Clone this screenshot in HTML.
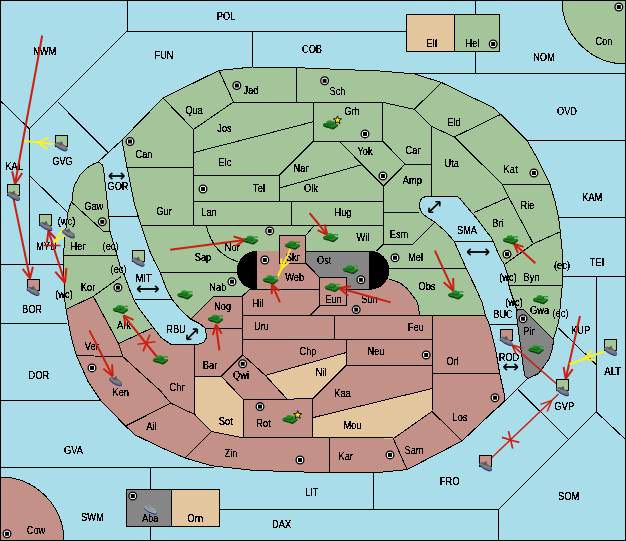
<!DOCTYPE html>
<html><head><meta charset="utf-8"><title>Map</title>
<style>html,body{margin:0;padding:0;background:#A9DDEA}svg{display:block}text{font-family:"Liberation Sans",Arial,sans-serif;font-size:10px;fill:#000;text-anchor:middle}</style></head>
<body>
<svg width="626" height="541" viewBox="0 0 626 541">
<rect x="0" y="0" width="626" height="541" fill="#A9DDEA"/>
<g shape-rendering="crispEdges">
<g stroke="#000" stroke-width="1" fill="none">
<polyline points="127,0 127,31"/>
<polyline points="127,31 406,31"/>
<polyline points="252.5,31 252.5,67"/>
<polyline points="127,31 29.3,128.8"/>
<polyline points="29.5,128.8 29.5,264"/>
<polyline points="0,264 64,264"/>
<polyline points="0,100.4 29.3,128.8"/>
<polyline points="57.5,101.7 108,152.6"/>
<polyline points="122,140 98,162"/>
<polyline points="30,176 68,213"/>
<polyline points="108.8,216.6 138,216.6"/>
<polyline points="134.7,299.8 172,299.8"/>
<polyline points="0,323 67,323"/>
<polyline points="0,400.3 100,400.3"/>
<polyline points="0,467.5 214,467.5"/>
<polyline points="150.4,467.5 150.4,540"/>
<polyline points="219.4,509.8 498.4,509.8"/>
<polyline points="498.4,509.5 498.4,540"/>
<polyline points="373.8,472.8 373.8,509.8"/>
<polyline points="498.4,509.5 596.3,411.9"/>
<polyline points="596.3,276.5 596.3,411.9"/>
<polyline points="596.3,411.9 626,440"/>
<polyline points="518,389.5 568.3,439.3"/>
<polyline points="527.7,378.3 498,408"/>
<polyline points="558.7,328.3 596.3,364.6"/>
<polyline points="562.3,276.5 626,276.5"/>
<polyline points="558.7,217.9 626,217.9"/>
<polyline points="526.9,140.2 626,140.2"/>
<polyline points="414,73.4 626,73.4"/>
<polyline points="475.6,0 475.6,73.4"/>
<polyline points="489.3,324.4 517.8,324.4"/>
<polyline points="454,241.3 494.2,241.3"/>
</g>
<circle cx="626" cy="0" r="64" fill="#A4C49A" stroke="#000"/>
<circle cx="0" cy="541" r="64" fill="#C39187" stroke="#000"/>
<polygon points="122,140 163,98 219,70.4 252.5,67 300,67.8 380,71 414,73.8 441.5,82.5 477.5,100 492.7,107.2 500.7,114.4 526.9,140.2 537.2,158.3 550,184.2 555.3,202.3 558.7,217.9 560.5,233.4 562.3,251.5 562.3,285.5 560.5,303.7 558.7,321.8 553.6,338.7 552.8,347.7 548.9,359.4 538.5,373.6 528.2,378.3 525,376.2 523.5,368.4 519,334.8 516.5,315.3 516.5,308.9 508.7,285.5 507.5,275 504.3,264.5 499.7,256.8 492,238.6 476.4,218 466,206 460,198.5 456.7,196.4 427,196.4 422.5,197.5 420.5,200 419.5,204.4 420.2,210 423,214.2 428,217.8 435,222.3 445,230.9 454,241 466.2,268.5 475,286.5 481.9,302 485.4,315.3 489.3,324.4 495.8,350.3 499.7,373.6 504.9,397 504.3,401 462,441 407,469.6 375,472.8 310,472.2 253.6,470.4 212,465.8 185,458 160,447 134.7,434.7 125.6,426 101,401 88,381.4 76.4,355.5 71.2,337.4 66.8,314 64.8,301 63.5,270 63.5,255.4 64.7,238.6 67.9,212.7 70,205.5 72,201.2 72.6,193.8 74.4,185.5 80,175.3 87,168 94.7,163.3 99,162.5 102,164.5 103.6,168.7 108.8,216.6 110,231.4 115.2,249 120.4,267 125,277 129,288 133.8,299.8 140,310 148.3,321 152,326 161.2,337.6 170.5,344.1 199.1,344.1 203.7,342.3 206.5,337.6 205.6,328.4 200,323.8 190.8,319.1 181.5,310.8 172.3,299.8 166,288 162.5,278.5 160.3,272.5 153.8,260 150,251.6 141.2,225.7 134.7,205 127,167.4" fill="#A4C49A" stroke="none"/>
<polygon points="66,309.4 93.3,296.4 118.7,343.8 152,328.3 152,326 161.2,337.6 170.5,344.1 199.1,344.1 203.7,342.3 206.5,337.6 205.6,328.4 200,323.8 190.8,319.1 213.5,296.4 242,296.4 249.7,289.4 256.6,289.4 256.6,251.3 279.7,251.3 279.7,235.9 305.5,235.9 305.5,263 319.6,277.4 346,277.4 346,289.4 369.9,289.4 369.9,279 389,279 400.2,283 412.5,295.4 418.8,306.6 419.2,315.3 485.4,315.3 489.3,324.4 495.8,350.3 499.7,373.6 504.9,397 504.3,401 462,441 407,469.6 375,472.8 310,472.2 253.6,470.4 212,465.8 185,458 160,447 134.7,434.7 125.6,426 101,401 88,381.4 76.4,355.5 71.2,337.4 66.8,314" fill="#C39187"/>
<polygon points="194.8,376.2 221.2,376.2 243.3,399.5 243.2,437.8 211.4,431.5 194.8,414.5" fill="#E4C69E"/>
<polygon points="265.3,375.4 346.6,352.4 346.6,365 313,398.5 286.8,398.8" fill="#E4C69E"/>
<polygon points="312.2,417.8 432.6,388.4 432,411.4 393.3,438.6 312.2,437.8" fill="#E4C69E"/>
<polygon points="305.5,251.3 369.9,251.3 369.9,289.4 346,289.4 346,277.4 319.6,277.4 305.5,263" fill="#868686"/>
<polygon points="517.3,309.4 524.3,310 553.3,339.2 552.8,347.7 548.9,359.4 538.5,373.6 528.2,378.3 525,376.2 523.5,368.4 519,334.8 516.5,315.3" fill="#868686" stroke="#000"/>
<g stroke="#000" stroke-width="1" fill="none">
<polygon points="122,140 163,98 219,70.4 252.5,67 300,67.8 380,71 414,73.8 441.5,82.5 477.5,100 492.7,107.2 500.7,114.4 526.9,140.2 537.2,158.3 550,184.2 555.3,202.3 558.7,217.9 560.5,233.4 562.3,251.5 562.3,285.5 560.5,303.7 558.7,321.8 553.6,338.7 552.8,347.7 548.9,359.4 538.5,373.6 528.2,378.3 525,376.2 523.5,368.4 519,334.8 516.5,315.3 516.5,308.9 508.7,285.5 507.5,275 504.3,264.5 499.7,256.8 492,238.6 476.4,218 466,206 460,198.5 456.7,196.4 427,196.4 422.5,197.5 420.5,200 419.5,204.4 420.2,210 423,214.2 428,217.8 435,222.3 445,230.9 454,241 466.2,268.5 475,286.5 481.9,302 485.4,315.3 489.3,324.4 495.8,350.3 499.7,373.6 504.9,397 504.3,401 462,441 407,469.6 375,472.8 310,472.2 253.6,470.4 212,465.8 185,458 160,447 134.7,434.7 125.6,426 101,401 88,381.4 76.4,355.5 71.2,337.4 66.8,314 64.8,301 63.5,270 63.5,255.4 64.7,238.6 67.9,212.7 70,205.5 72,201.2 72.6,193.8 74.4,185.5 80,175.3 87,168 94.7,163.3 99,162.5 102,164.5 103.6,168.7 108.8,216.6 110,231.4 115.2,249 120.4,267 125,277 129,288 133.8,299.8 140,310 148.3,321 152,326 161.2,337.6 170.5,344.1 199.1,344.1 203.7,342.3 206.5,337.6 205.6,328.4 200,323.8 190.8,319.1 181.5,310.8 172.3,299.8 166,288 162.5,278.5 160.3,272.5 153.8,260 150,251.6 141.2,225.7 134.7,205 127,167.4"/>
<polyline points="163,98 193.5,129.5 193.5,225.3"/>
<polyline points="219,70.4 233.4,102 193.5,129.5"/>
<polyline points="233.4,102 382.8,102.4 414.3,109.3"/>
<polyline points="296.3,67.5 296.3,102"/>
<polyline points="193.5,152.6 313.5,121.7"/>
<polyline points="279.5,175 313.5,141.1"/>
<polyline points="338.9,141 383.4,186 383.4,244.3"/>
<polyline points="279.5,188 361.7,164.8"/>
<polyline points="382.8,141.1 405,164.3 383.4,186"/>
<polyline points="405,164.3 431.5,164.4"/>
<polyline points="414.3,109.3 431.5,126.4 431.5,196.4"/>
<polyline points="441.5,82.5 414.3,109.3"/>
<polyline points="431.5,126.4 454.3,137"/>
<polyline points="454.3,137 500.7,114.4"/>
<polyline points="454.3,137 502.2,184.2 508.7,197.2 533.3,243.8"/>
<polyline points="502.2,184.2 550,184.2"/>
<polyline points="473.8,212.7 508.7,197.2"/>
<polyline points="533.3,243.8 559.8,232"/>
<polyline points="533.3,243.8 504.3,264.5"/>
<polyline points="508.7,285.5 562.3,285.5"/>
<polyline points="127,167.4 193.5,167.4"/>
<polyline points="193.5,175 279.5,175 279.5,201.3"/>
<polyline points="193.5,201.3 383.4,201.3"/>
<polyline points="141.2,225.3 383.4,225.3"/>
<polyline points="291.2,201.3 291.2,225.3"/>
<polyline points="206.5,225.3 208,232 210.9,238.6 215,246 220,251.6 228,257.5 238,262"/>
<polyline points="160.3,272.5 238,272.5"/>
<polyline points="383.4,244.3 376.3,251.3"/>
<polyline points="383.4,212.2 419,212.2"/>
<polyline points="383.4,244.3 412.7,244.3 435,222.3"/>
<polyline points="389,268.5 466.2,268.5"/>
<polyline points="63.5,255.5 116.6,255.5"/>
<polyline points="71.2,201.8 103.6,231.4 110,231.4"/>
<polyline points="93.3,296.4 121.2,276.5"/>
<polyline points="314.2,225.3 305.5,235.9"/>
<polyline points="76.4,355.5 123,356.8"/>
<polyline points="93.3,296.4 118.7,343.8 123,356.8 160,390.5 170.8,403.2"/>
<polyline points="118.7,343.5 152,328"/>
<polyline points="170.8,403.2 125.6,426"/>
<polyline points="170.8,403.2 194.8,414.5 211.4,431.5"/>
<polyline points="211.4,431.5 185,458"/>
<polyline points="194.8,344.1 194.8,414.5"/>
<polyline points="205.7,328.3 242.7,328.3"/>
<polyline points="242.7,296.4 242.7,354.7"/>
<polyline points="242.7,315.3 485.4,315.3"/>
<polyline points="242.7,339.4 432.6,339.4"/>
<polyline points="334.5,315.3 334.5,339.4"/>
<polyline points="346.6,339.4 346.6,365"/>
<polyline points="346.6,365 432.6,365"/>
<polyline points="432.6,315.3 432.6,388.4 432,411.4"/>
<polyline points="432.6,373 499.7,373"/>
<polyline points="194.8,376.2 221.2,376.2"/>
<polyline points="242.7,354.7 221.2,376.2 243.3,399.5"/>
<polyline points="242.7,354.7 265.3,375.4 286.8,398.8"/>
<polyline points="265.3,375.4 346.6,352.4"/>
<polyline points="346.6,365 313,398.5"/>
<polyline points="243.3,399.5 286.8,399.2 313,398.5"/>
<polyline points="243.3,399.5 243.2,437.8"/>
<polyline points="312.2,399 312.2,437.8"/>
<polyline points="312.2,417.8 432.6,388.4"/>
<polyline points="432,411.4 393.3,438.6"/>
<polyline points="243.2,437.8 393.3,437.8"/>
<polyline points="329.3,437.8 329.3,472.5"/>
<polyline points="393.3,438.6 407,469.6"/>
<polyline points="432,411.4 462,441"/>
<polyline points="211.4,431.5 243.2,437.8"/>
<polyline points="190.8,319.1 213.5,296.4 242,296.4 249.7,289.4 319.6,289.4"/>
<polyline points="319.6,305.7 310.2,315.3"/>
<polyline points="256.6,251.3 256.6,289.4"/>
<polyline points="369.9,251.3 369.9,289.4"/>
<polyline points="389,279 400.2,283 407,288.5 412.5,295.4 416.5,301 418.8,306.6 419.2,315.3"/>
<polyline points="66,309.4 93.3,296.4"/>
<polygon points="305.5,251.3 369.9,251.3 369.9,289.4 346,289.4 346,277.4 319.6,277.4 305.5,263"/>
</g>
<path d="M257,250.8 A20.2,19.5 0 0 0 257,289.8 Z" fill="#000"/>
<path d="M369.5,250.8 A20,19.5 0 0 1 369.5,289.8 Z" fill="#000"/>
<rect x="406.5" y="14.5" width="48" height="37" fill="#E4C69E" stroke="#000"/>
<rect x="454.5" y="14.5" width="45" height="37" fill="#A4C49A" stroke="#000"/>
<rect x="126.5" y="489.5" width="45" height="37" fill="#868686" stroke="#000"/>
<rect x="171.5" y="489.5" width="48" height="37" fill="#E4C69E" stroke="#000"/>
<rect x="313.5" y="102.5" width="69" height="39" fill="#A4C49A" stroke="#000"/>
<rect x="279.5" y="235.5" width="26" height="28" fill="#C39187" stroke="#000"/>
<rect x="319.5" y="277.5" width="27" height="28" fill="#C39187" stroke="#000"/>
</g>
<path d="M0.5,0.5H625.5V540.5H0.5Z" fill="none" stroke="#000" shape-rendering="crispEdges"/>
<circle cx="130" cy="141.5" r="3.85" fill="#fff" stroke="#000" stroke-width="1.3"/><rect x="128" y="139.5" width="4" height="4" fill="#000"/>
<circle cx="102.3" cy="221.8" r="3.85" fill="#fff" stroke="#000" stroke-width="1.3"/><rect x="100.3" y="219.8" width="4" height="4" fill="#000"/>
<circle cx="203" cy="189" r="3.85" fill="#fff" stroke="#000" stroke-width="1.3"/><rect x="201" y="187" width="4" height="4" fill="#000"/>
<circle cx="269.7" cy="230.9" r="3.85" fill="#fff" stroke="#000" stroke-width="1.3"/><rect x="267.7" y="228.9" width="4" height="4" fill="#000"/>
<circle cx="264.8" cy="260" r="3.85" fill="#fff" stroke="#000" stroke-width="1.3"/><rect x="262.8" y="258" width="4" height="4" fill="#000"/>
<circle cx="382.9" cy="176" r="3.85" fill="#fff" stroke="#000" stroke-width="1.3"/><rect x="380.9" y="174" width="4" height="4" fill="#000"/>
<circle cx="395" cy="257.7" r="3.85" fill="#fff" stroke="#000" stroke-width="1.3"/><rect x="393" y="255.7" width="4" height="4" fill="#000"/>
<circle cx="533.9" cy="173" r="3.85" fill="#fff" stroke="#000" stroke-width="1.3"/><rect x="531.9" y="171" width="4" height="4" fill="#000"/>
<circle cx="507" cy="254.2" r="3.85" fill="#fff" stroke="#000" stroke-width="1.3"/><rect x="505" y="252.2" width="4" height="4" fill="#000"/>
<circle cx="117.9" cy="287.6" r="3.85" fill="#fff" stroke="#000" stroke-width="1.3"/><rect x="115.9" y="285.6" width="4" height="4" fill="#000"/>
<circle cx="92" cy="367.9" r="3.85" fill="#fff" stroke="#000" stroke-width="1.3"/><rect x="90" y="365.9" width="4" height="4" fill="#000"/>
<circle cx="232" cy="281.7" r="3.85" fill="#fff" stroke="#000" stroke-width="1.3"/><rect x="230" y="279.7" width="4" height="4" fill="#000"/>
<circle cx="242.7" cy="363.8" r="3.85" fill="#fff" stroke="#000" stroke-width="1.3"/><rect x="240.7" y="361.8" width="4" height="4" fill="#000"/>
<circle cx="260" cy="406.6" r="3.85" fill="#fff" stroke="#000" stroke-width="1.3"/><rect x="258" y="404.6" width="4" height="4" fill="#000"/>
<circle cx="360.9" cy="279.8" r="3.85" fill="#fff" stroke="#000" stroke-width="1.3"/><rect x="358.9" y="277.8" width="4" height="4" fill="#000"/>
<circle cx="356.2" cy="309.6" r="3.85" fill="#fff" stroke="#000" stroke-width="1.3"/><rect x="354.2" y="307.6" width="4" height="4" fill="#000"/>
<circle cx="426.2" cy="355" r="3.85" fill="#fff" stroke="#000" stroke-width="1.3"/><rect x="424.2" y="353" width="4" height="4" fill="#000"/>
<circle cx="523" cy="318.7" r="3.85" fill="#fff" stroke="#000" stroke-width="1.3"/><rect x="521" y="316.7" width="4" height="4" fill="#000"/>
<circle cx="495" cy="397.7" r="3.85" fill="#fff" stroke="#000" stroke-width="1.3"/><rect x="493" y="395.7" width="4" height="4" fill="#000"/>
<circle cx="7" cy="533.8" r="3.85" fill="#fff" stroke="#000" stroke-width="1.3"/><rect x="5" y="531.8" width="4" height="4" fill="#000"/>
<circle cx="132.8" cy="496" r="3.85" fill="#fff" stroke="#000" stroke-width="1.3"/><rect x="130.8" y="494" width="4" height="4" fill="#000"/>
<circle cx="300" cy="460" r="3.85" fill="#fff" stroke="#000" stroke-width="1.3"/><rect x="298" y="458" width="4" height="4" fill="#000"/>
<circle cx="390" cy="454.9" r="3.85" fill="#fff" stroke="#000" stroke-width="1.3"/><rect x="388" y="452.9" width="4" height="4" fill="#000"/>
<circle cx="365" cy="133.9" r="3.85" fill="#fff" stroke="#000" stroke-width="1.3"/><rect x="363" y="131.9" width="4" height="4" fill="#000"/>
<circle cx="493.2" cy="44" r="3.85" fill="#fff" stroke="#000" stroke-width="1.3"/><rect x="491.2" y="42" width="4" height="4" fill="#000"/>
<circle cx="618.8" cy="7" r="3.85" fill="#fff" stroke="#000" stroke-width="1.3"/><rect x="616.8" y="5" width="4" height="4" fill="#000"/>
<circle cx="236.8" cy="85.5" r="3.85" fill="#fff" stroke="#000" stroke-width="1.3"/><rect x="234.8" y="83.5" width="4" height="4" fill="#000"/>
<circle cx="324.6" cy="80.8" r="3.85" fill="#fff" stroke="#000" stroke-width="1.3"/><rect x="322.6" y="78.8" width="4" height="4" fill="#000"/>
<defs><filter id="crisp" x="0" y="0" width="100%" height="100%" filterUnits="userSpaceOnUse" color-interpolation-filters="sRGB"><feComponentTransfer><feFuncA type="discrete" tableValues="0 0 0 1 1 1 1 1 1 1"/></feComponentTransfer></filter></defs>
<g filter="url(#crisp)">
<text transform="translate(44.7,55.3) scale(0.93,1)">NWM</text>
<text transform="translate(226,19.9) scale(0.93,1)">POL</text>
<text transform="translate(164,59.3) scale(0.93,1)">FUN</text>
<text transform="translate(312,53) scale(0.93,1)">COB</text>
<text transform="translate(544,60.8) scale(0.93,1)">NOM</text>
<text transform="translate(567,115.3) scale(0.93,1)">OVD</text>
<text transform="translate(604,45.3) scale(0.93,1)">Con</text>
<text transform="translate(432,47.3) scale(0.93,1)">Elf</text>
<text transform="translate(472.5,47.3) scale(0.93,1)">Hel</text>
<text transform="translate(251,94.3) scale(0.93,1)">Jad</text>
<text transform="translate(194,113.9) scale(0.93,1)">Qua</text>
<text transform="translate(224.5,132.3) scale(0.93,1)">Jos</text>
<text transform="translate(337.5,95.3) scale(0.93,1)">Sch</text>
<text transform="translate(352,115.1) scale(0.93,1)">Grh</text>
<text transform="translate(454,125.9) scale(0.93,1)">Eld</text>
<text transform="translate(144,158.1) scale(0.93,1)">Can</text>
<text transform="translate(14.2,170.3) scale(0.93,1)">KAL</text>
<text transform="translate(62.5,165.1) scale(0.93,1)">GVG</text>
<text transform="translate(118,190.3) scale(0.93,1)">GOR</text>
<text transform="translate(93.7,209.9) scale(0.93,1)">Gaw</text>
<text transform="translate(66.5,225.3) scale(0.93,1)">(wc)</text>
<text transform="translate(46.4,250.3) scale(0.93,1)">MYU</text>
<text transform="translate(78,250.1) scale(0.93,1)">Her</text>
<text transform="translate(110.6,250.1) scale(0.93,1)">(ec)</text>
<text transform="translate(118.6,273.1) scale(0.93,1)">(ec)</text>
<text transform="translate(225,165.9) scale(0.93,1)">Elc</text>
<text transform="translate(259,192.3) scale(0.93,1)">Tel</text>
<text transform="translate(301,172.1) scale(0.93,1)">Nar</text>
<text transform="translate(164,215.1) scale(0.93,1)">Gur</text>
<text transform="translate(209,216.1) scale(0.93,1)">Lan</text>
<text transform="translate(232.3,251.1) scale(0.93,1)">Nor</text>
<text transform="translate(203,260.9) scale(0.93,1)">Sap</text>
<text transform="translate(292.7,260.9) scale(0.93,1)">Skr</text>
<text transform="translate(365,155.3) scale(0.93,1)">Yok</text>
<text transform="translate(413,154.3) scale(0.93,1)">Car</text>
<text transform="translate(451.6,166.8) scale(0.93,1)">Uta</text>
<text transform="translate(412.4,184) scale(0.93,1)">Amp</text>
<text transform="translate(311,192.3) scale(0.93,1)">Olk</text>
<text transform="translate(343,216.1) scale(0.93,1)">Hug</text>
<text transform="translate(363,241) scale(0.93,1)">Wil</text>
<text transform="translate(399,238.3) scale(0.93,1)">Esm</text>
<text transform="translate(415.5,261) scale(0.93,1)">Mel</text>
<text transform="translate(324.2,264.3) scale(0.93,1)">Ost</text>
<text transform="translate(510.5,172.9) scale(0.93,1)">Kat</text>
<text transform="translate(527.5,208.6) scale(0.93,1)">Rie</text>
<text transform="translate(498,227.3) scale(0.93,1)">Bri</text>
<text transform="translate(592.3,201.3) scale(0.93,1)">KAM</text>
<text transform="translate(597,266.1) scale(0.93,1)">TEI</text>
<text transform="translate(562,268.7) scale(0.93,1)">(ec)</text>
<text transform="translate(467,234.3) scale(0.93,1)">SMA</text>
<text transform="translate(32,313) scale(0.93,1)">BOR</text>
<text transform="translate(38.8,379.1) scale(0.93,1)">DOR</text>
<text transform="translate(88,291) scale(0.93,1)">Kor</text>
<text transform="translate(64,298) scale(0.93,1)">(wc)</text>
<text transform="translate(124,329.3) scale(0.93,1)">Ark</text>
<text transform="translate(91.7,349.8) scale(0.93,1)">Ver</text>
<text transform="translate(120.7,395.9) scale(0.93,1)">Ken</text>
<text transform="translate(143.7,282) scale(0.93,1)">MIT</text>
<text transform="translate(294.6,280.7) scale(0.93,1)">Web</text>
<text transform="translate(217.8,291) scale(0.93,1)">Nab</text>
<text transform="translate(222.6,310.3) scale(0.93,1)">Nog</text>
<text transform="translate(258,306.6) scale(0.93,1)">Hil</text>
<text transform="translate(261.4,330.3) scale(0.93,1)">Uru</text>
<text transform="translate(176,332.5) scale(0.93,1)">RBU</text>
<text transform="translate(210,368.7) scale(0.93,1)">Bar</text>
<text transform="translate(241,379.1) scale(0.93,1)">Qwi</text>
<text transform="translate(177,390.7) scale(0.93,1)">Chr</text>
<text transform="translate(308,354.5) scale(0.93,1)">Chp</text>
<text transform="translate(427,290.2) scale(0.93,1)">Obs</text>
<text transform="translate(333.5,303.3) scale(0.93,1)">Eun</text>
<text transform="translate(369.5,303.3) scale(0.93,1)">Sun</text>
<text transform="translate(415.8,330.7) scale(0.93,1)">Feu</text>
<text transform="translate(376,355.3) scale(0.93,1)">Neu</text>
<text transform="translate(452.5,364.9) scale(0.93,1)">Orl</text>
<text transform="translate(321.2,376) scale(0.93,1)">Nil</text>
<text transform="translate(342.5,397.3) scale(0.93,1)">Kaa</text>
<text transform="translate(508,281.3) scale(0.93,1)">(wc)</text>
<text transform="translate(531.6,280.7) scale(0.93,1)">Byn</text>
<text transform="translate(514,305.8) scale(0.93,1)">(wc)</text>
<text transform="translate(539.6,314.3) scale(0.93,1)">Gwa</text>
<text transform="translate(560.5,316.9) scale(0.93,1)">(ec)</text>
<text transform="translate(503,318.3) scale(0.93,1)">BUC</text>
<text transform="translate(529,335.1) scale(0.93,1)">Pir</text>
<text transform="translate(580.7,334.3) scale(0.93,1)">KUP</text>
<text transform="translate(509,361) scale(0.93,1)">ROD</text>
<text transform="translate(612.7,374.7) scale(0.93,1)">ALT</text>
<text transform="translate(564.4,410.3) scale(0.93,1)">GVP</text>
<text transform="translate(73.4,453.8) scale(0.93,1)">GVA</text>
<text transform="translate(92.3,520.9) scale(0.93,1)">SWM</text>
<text transform="translate(36,533.8) scale(0.93,1)">Cow</text>
<text transform="translate(151.3,429.8) scale(0.93,1)">Ail</text>
<text transform="translate(150.2,522.3) scale(0.93,1)">Aba</text>
<text transform="translate(225.8,424.6) scale(0.93,1)">Sot</text>
<text transform="translate(263.5,427.3) scale(0.93,1)">Rot</text>
<text transform="translate(231,457) scale(0.93,1)">Zin</text>
<text transform="translate(195.3,522.3) scale(0.93,1)">Orn</text>
<text transform="translate(281.6,528.3) scale(0.93,1)">DAX</text>
<text transform="translate(352.6,429) scale(0.93,1)">Mou</text>
<text transform="translate(345.7,460.1) scale(0.93,1)">Kar</text>
<text transform="translate(414,453.9) scale(0.93,1)">Sam</text>
<text transform="translate(311.6,496.3) scale(0.93,1)">LIT</text>
<text transform="translate(449.6,485) scale(0.93,1)">FRO</text>
<text transform="translate(460,421.3) scale(0.93,1)">Los</text>
<text transform="translate(568.6,500.3) scale(0.93,1)">SOM</text>
</g>
<path d="M109.5,176L123.8,176" stroke="#000" stroke-width="1.8" fill="none"/><path d="M124.3,176L120.934,179.136" stroke="#000" stroke-width="1.6" fill="none"/><path d="M124.3,176L120.934,172.864" stroke="#000" stroke-width="1.6" fill="none"/><path d="M109,176L112.366,172.864" stroke="#000" stroke-width="1.6" fill="none"/><path d="M109,176L112.366,179.136" stroke="#000" stroke-width="1.6" fill="none"/>
<path d="M137.8,289L158,289" stroke="#000" stroke-width="1.8" fill="none"/><path d="M158.5,289L155.134,292.136" stroke="#000" stroke-width="1.6" fill="none"/><path d="M158.5,289L155.134,285.864" stroke="#000" stroke-width="1.6" fill="none"/><path d="M137.3,289L140.666,285.864" stroke="#000" stroke-width="1.6" fill="none"/><path d="M137.3,289L140.666,292.136" stroke="#000" stroke-width="1.6" fill="none"/>
<path d="M187.157,339.05L197.043,329.35" stroke="#000" stroke-width="1.8" fill="none"/><path d="M197.4,329L197.193,333.595" stroke="#000" stroke-width="1.6" fill="none"/><path d="M197.4,329L192.802,329.119" stroke="#000" stroke-width="1.6" fill="none"/><path d="M186.8,339.4L187.007,334.805" stroke="#000" stroke-width="1.6" fill="none"/><path d="M186.8,339.4L191.398,339.281" stroke="#000" stroke-width="1.6" fill="none"/>
<path d="M429.166,211.86L439.634,202.14" stroke="#000" stroke-width="1.8" fill="none"/><path d="M440,201.8L439.667,206.388" stroke="#000" stroke-width="1.6" fill="none"/><path d="M440,201.8L435.4,201.793" stroke="#000" stroke-width="1.6" fill="none"/><path d="M428.8,212.2L429.133,207.612" stroke="#000" stroke-width="1.6" fill="none"/><path d="M428.8,212.2L433.4,212.207" stroke="#000" stroke-width="1.6" fill="none"/>
<path d="M467.8,252L488.5,252" stroke="#000" stroke-width="1.8" fill="none"/><path d="M489,252L485.634,255.136" stroke="#000" stroke-width="1.6" fill="none"/><path d="M489,252L485.634,248.864" stroke="#000" stroke-width="1.6" fill="none"/><path d="M467.3,252L470.666,248.864" stroke="#000" stroke-width="1.6" fill="none"/><path d="M467.3,252L470.666,255.136" stroke="#000" stroke-width="1.6" fill="none"/>
<path d="M504.1,367L517.3,367" stroke="#000" stroke-width="1.8" fill="none"/><path d="M517.8,367L514.434,370.136" stroke="#000" stroke-width="1.6" fill="none"/><path d="M517.8,367L514.434,363.864" stroke="#000" stroke-width="1.6" fill="none"/><path d="M503.6,367L506.966,363.864" stroke="#000" stroke-width="1.6" fill="none"/><path d="M503.6,367L506.966,370.136" stroke="#000" stroke-width="1.6" fill="none"/>
<path d="M42.2,35.5L15,184" stroke="#CC1F10" stroke-width="2" fill="none"/><path d="M15,184L12.1777,171.31" stroke="#CC1F10" stroke-width="2" fill="none"/><path d="M15,184L22.1369,173.134" stroke="#CC1F10" stroke-width="2" fill="none"/>
<path d="M13,196L30,278.5" stroke="#CC1F10" stroke-width="2" fill="none"/><path d="M30,278.5L22.7071,268.97" stroke="#CC1F10" stroke-width="2" fill="none"/><path d="M30,278.5L32.9314,266.864" stroke="#CC1F10" stroke-width="2" fill="none"/>
<path d="M65,283L48.5,231" stroke="#CC1F10" stroke-width="2" fill="none"/><path d="M48.5,231L56.7432,239.721" stroke="#CC1F10" stroke-width="2" fill="none"/><path d="M48.5,231L46.7929,242.878" stroke="#CC1F10" stroke-width="2" fill="none"/>
<path d="M65,283L55.2537,271.598" stroke="#CC1F10" stroke-width="2" fill="none"/><path d="M65,283L66.3891,268.064" stroke="#CC1F10" stroke-width="2" fill="none"/>
<path d="M43.5,245.5L60.5,245.5" stroke="#CC1F10" stroke-width="1.6" fill="none"/>
<path d="M54.3,144L24,141.1" stroke="#FFEE22" stroke-width="2" fill="none"/><path d="M37.635,142.405L48.6662,137.681" stroke="#FFEE22" stroke-width="2" fill="none"/><path d="M37.635,142.405L47.57,149.135" stroke="#FFEE22" stroke-width="2" fill="none"/>
<path d="M63.3,228.5L54,242.5" stroke="#FFEE22" stroke-width="2" fill="none"/>
<path d="M65.8,235L54,242.5" stroke="#FFEE22" stroke-width="2" fill="none"/>
<path d="M170.2,249.8L245,240" stroke="#CC1F10" stroke-width="2" fill="none"/><path d="M245,240L234.771,246.275" stroke="#CC1F10" stroke-width="2" fill="none"/><path d="M245,240L233.5,236.572" stroke="#CC1F10" stroke-width="2" fill="none"/>
<path d="M309.6,213.2L327.5,235" stroke="#CC1F10" stroke-width="2" fill="none"/><path d="M327.5,235L317.66,230.084" stroke="#CC1F10" stroke-width="2" fill="none"/><path d="M327.5,235L324.593,224.391" stroke="#CC1F10" stroke-width="2" fill="none"/>
<path d="M434.9,250.7L453.4,290.9" stroke="#CC1F10" stroke-width="2" fill="none"/><path d="M453.4,290.9L443.622,282.333" stroke="#CC1F10" stroke-width="2" fill="none"/><path d="M453.4,290.9L453.253,277.901" stroke="#CC1F10" stroke-width="2" fill="none"/>
<path d="M535.4,263.2L514,243.8" stroke="#CC1F10" stroke-width="2" fill="none"/><path d="M514,243.8L523.504,246.912" stroke="#CC1F10" stroke-width="2" fill="none"/><path d="M514,243.8L518.026,252.954" stroke="#CC1F10" stroke-width="2" fill="none"/>
<path d="M89.4,330.4L112.7,376.2" stroke="#CC1F10" stroke-width="2" fill="none"/><path d="M112.7,376.2L103.371,368.653" stroke="#CC1F10" stroke-width="2" fill="none"/><path d="M112.7,376.2L112.093,364.215" stroke="#CC1F10" stroke-width="2" fill="none"/>
<path d="M157,357L123.6,315.3" stroke="#CC1F10" stroke-width="2" fill="none"/><path d="M123.6,315.3L133.619,319.84" stroke="#CC1F10" stroke-width="2" fill="none"/><path d="M123.6,315.3L125.843,326.069" stroke="#CC1F10" stroke-width="2" fill="none"/>
<path d="M149.849,334.646L143.151,351.354" stroke="#CC1F10" stroke-width="1.7" fill="none"/><path d="M137.591,344.277L155.409,341.723" stroke="#CC1F10" stroke-width="1.7" fill="none"/>
<path d="M219.4,350.3L216,324.4" stroke="#CC1F10" stroke-width="2" fill="none"/><path d="M216,324.4L221.755,333.775" stroke="#CC1F10" stroke-width="2" fill="none"/><path d="M216,324.4L212.86,334.942" stroke="#CC1F10" stroke-width="2" fill="none"/>
<path d="M280,302.4L271.8,284.2" stroke="#CC1F10" stroke-width="2" fill="none"/><path d="M271.8,284.2L279.268,290.85" stroke="#CC1F10" stroke-width="2" fill="none"/><path d="M271.8,284.2L271.833,294.2" stroke="#CC1F10" stroke-width="2" fill="none"/>
<path d="M390.7,302.4L339,288" stroke="#CC1F10" stroke-width="2" fill="none"/><path d="M339,288L350.868,286.226" stroke="#CC1F10" stroke-width="2" fill="none"/><path d="M339,288L348.242,295.654" stroke="#CC1F10" stroke-width="2" fill="none"/>
<path d="M580,316L565.7,378.8" stroke="#CC1F10" stroke-width="2" fill="none"/><path d="M565.7,378.8L563.598,366.986" stroke="#CC1F10" stroke-width="2" fill="none"/><path d="M565.7,378.8L572.71,369.061" stroke="#CC1F10" stroke-width="2" fill="none"/>
<path d="M556.7,384L512,345" stroke="#CC1F10" stroke-width="1.6" fill="none"/><path d="M512,345L522.517,348.223" stroke="#CC1F10" stroke-width="1.6" fill="none"/><path d="M512,345L516.619,354.983" stroke="#CC1F10" stroke-width="1.6" fill="none"/>
<path d="M491.4,458L558.5,394" stroke="#CC1F10" stroke-width="1.4" fill="none"/><path d="M551.79,400.4L547.238,411.503" stroke="#CC1F10" stroke-width="1.4" fill="none"/><path d="M551.79,400.4L540.484,404.422" stroke="#CC1F10" stroke-width="1.4" fill="none"/>
<path d="M501.964,437.366L519.236,442.434" stroke="#CC1F10" stroke-width="1.7" fill="none"/><path d="M512.723,448.646L508.477,431.154" stroke="#CC1F10" stroke-width="1.7" fill="none"/>
<path d="M604.6,351.3L569.5,364.3" stroke="#FFEE22" stroke-width="2" fill="none"/><path d="M584.593,358.71L591.814,350.412" stroke="#FFEE22" stroke-width="2" fill="none"/><path d="M584.593,358.71L595.477,360.303" stroke="#FFEE22" stroke-width="2" fill="none"/>
<path d="M290.3,249.3L277.4,277.5" stroke="#FFEE22" stroke-width="2" fill="none"/><path d="M281.528,268.476L281.318,258.478" stroke="#FFEE22" stroke-width="2" fill="none"/><path d="M281.528,268.476L289.229,262.097" stroke="#FFEE22" stroke-width="2" fill="none"/>
<g transform="translate(330.5,125)"><polygon points="-7.6,-0.5 -6.6,-1.5 -3.6,-2 1.4,-1.5 7.4,-0.5 7.7,0.7 5.9,2.2 3.4,4.2 1.9,4.4 -2.6,2.7 -6.3,1.9 -7.6,0.5" fill="#104412"/><polygon points="-7.4,-0.8 -6.4,-1.7 -3.6,-2.2 1.4,-1.7 7.2,-0.8 7.3,0 5.2,1.2 2.6,2.6 1.4,2.7 -2.6,1.3 -6.2,0.6 -7.4,-0.2" fill="#1E8A22"/><path d="M-5.8,-0.9 L-1,-0.2 L2.2,0.1" stroke="#0F4A13" stroke-width="0.8" fill="none"/><path d="M-5,1.5 L-2,2.3" stroke="#0A300C" stroke-width="0.9" fill="none"/><polygon points="-4.4,-1.3 -3.7,-3.4 -2,-4.5 1,-4.4 1.9,-3.2 1.9,-1.2 -1,-0.7" fill="#1B8420"/><path d="M-3.4,-3.7 L0.8,-3.9" stroke="#2CAE30" stroke-width="0.9"/><path d="M1.5,-3.1 L7.6,-3.1" stroke="#25A029" stroke-width="1.4"/><rect x="1.9" y="-2.5" width="1.5" height="1.2" fill="#1F2E26"/><path d="M3.6,-1.9 L5.6,-1.9" stroke="#7FA080" stroke-width="0.7"/></g>
<g transform="translate(250.5,240.2)"><polygon points="-7.6,-0.5 -6.6,-1.5 -3.6,-2 1.4,-1.5 7.4,-0.5 7.7,0.7 5.9,2.2 3.4,4.2 1.9,4.4 -2.6,2.7 -6.3,1.9 -7.6,0.5" fill="#104412"/><polygon points="-7.4,-0.8 -6.4,-1.7 -3.6,-2.2 1.4,-1.7 7.2,-0.8 7.3,0 5.2,1.2 2.6,2.6 1.4,2.7 -2.6,1.3 -6.2,0.6 -7.4,-0.2" fill="#1E8A22"/><path d="M-5.8,-0.9 L-1,-0.2 L2.2,0.1" stroke="#0F4A13" stroke-width="0.8" fill="none"/><path d="M-5,1.5 L-2,2.3" stroke="#0A300C" stroke-width="0.9" fill="none"/><polygon points="-4.4,-1.3 -3.7,-3.4 -2,-4.5 1,-4.4 1.9,-3.2 1.9,-1.2 -1,-0.7" fill="#1B8420"/><path d="M-3.4,-3.7 L0.8,-3.9" stroke="#2CAE30" stroke-width="0.9"/><path d="M1.5,-3.1 L7.6,-3.1" stroke="#25A029" stroke-width="1.4"/><rect x="1.9" y="-2.5" width="1.5" height="1.2" fill="#1F2E26"/><path d="M3.6,-1.9 L5.6,-1.9" stroke="#7FA080" stroke-width="0.7"/></g>
<g transform="translate(292.5,245.4)"><polygon points="-7.6,-0.5 -6.6,-1.5 -3.6,-2 1.4,-1.5 7.4,-0.5 7.7,0.7 5.9,2.2 3.4,4.2 1.9,4.4 -2.6,2.7 -6.3,1.9 -7.6,0.5" fill="#104412"/><polygon points="-7.4,-0.8 -6.4,-1.7 -3.6,-2.2 1.4,-1.7 7.2,-0.8 7.3,0 5.2,1.2 2.6,2.6 1.4,2.7 -2.6,1.3 -6.2,0.6 -7.4,-0.2" fill="#1E8A22"/><path d="M-5.8,-0.9 L-1,-0.2 L2.2,0.1" stroke="#0F4A13" stroke-width="0.8" fill="none"/><path d="M-5,1.5 L-2,2.3" stroke="#0A300C" stroke-width="0.9" fill="none"/><polygon points="-4.4,-1.3 -3.7,-3.4 -2,-4.5 1,-4.4 1.9,-3.2 1.9,-1.2 -1,-0.7" fill="#1B8420"/><path d="M-3.4,-3.7 L0.8,-3.9" stroke="#2CAE30" stroke-width="0.9"/><path d="M1.5,-3.1 L7.6,-3.1" stroke="#25A029" stroke-width="1.4"/><rect x="1.9" y="-2.5" width="1.5" height="1.2" fill="#1F2E26"/><path d="M3.6,-1.9 L5.6,-1.9" stroke="#7FA080" stroke-width="0.7"/></g>
<g transform="translate(270.5,280)"><polygon points="-7.6,-0.5 -6.6,-1.5 -3.6,-2 1.4,-1.5 7.4,-0.5 7.7,0.7 5.9,2.2 3.4,4.2 1.9,4.4 -2.6,2.7 -6.3,1.9 -7.6,0.5" fill="#104412"/><polygon points="-7.4,-0.8 -6.4,-1.7 -3.6,-2.2 1.4,-1.7 7.2,-0.8 7.3,0 5.2,1.2 2.6,2.6 1.4,2.7 -2.6,1.3 -6.2,0.6 -7.4,-0.2" fill="#1E8A22"/><path d="M-5.8,-0.9 L-1,-0.2 L2.2,0.1" stroke="#0F4A13" stroke-width="0.8" fill="none"/><path d="M-5,1.5 L-2,2.3" stroke="#0A300C" stroke-width="0.9" fill="none"/><polygon points="-4.4,-1.3 -3.7,-3.4 -2,-4.5 1,-4.4 1.9,-3.2 1.9,-1.2 -1,-0.7" fill="#1B8420"/><path d="M-3.4,-3.7 L0.8,-3.9" stroke="#2CAE30" stroke-width="0.9"/><path d="M1.5,-3.1 L7.6,-3.1" stroke="#25A029" stroke-width="1.4"/><rect x="1.9" y="-2.5" width="1.5" height="1.2" fill="#1F2E26"/><path d="M3.6,-1.9 L5.6,-1.9" stroke="#7FA080" stroke-width="0.7"/></g>
<g transform="translate(330.6,237.8)"><polygon points="-7.6,-0.5 -6.6,-1.5 -3.6,-2 1.4,-1.5 7.4,-0.5 7.7,0.7 5.9,2.2 3.4,4.2 1.9,4.4 -2.6,2.7 -6.3,1.9 -7.6,0.5" fill="#104412"/><polygon points="-7.4,-0.8 -6.4,-1.7 -3.6,-2.2 1.4,-1.7 7.2,-0.8 7.3,0 5.2,1.2 2.6,2.6 1.4,2.7 -2.6,1.3 -6.2,0.6 -7.4,-0.2" fill="#1E8A22"/><path d="M-5.8,-0.9 L-1,-0.2 L2.2,0.1" stroke="#0F4A13" stroke-width="0.8" fill="none"/><path d="M-5,1.5 L-2,2.3" stroke="#0A300C" stroke-width="0.9" fill="none"/><polygon points="-4.4,-1.3 -3.7,-3.4 -2,-4.5 1,-4.4 1.9,-3.2 1.9,-1.2 -1,-0.7" fill="#1B8420"/><path d="M-3.4,-3.7 L0.8,-3.9" stroke="#2CAE30" stroke-width="0.9"/><path d="M1.5,-3.1 L7.6,-3.1" stroke="#25A029" stroke-width="1.4"/><rect x="1.9" y="-2.5" width="1.5" height="1.2" fill="#1F2E26"/><path d="M3.6,-1.9 L5.6,-1.9" stroke="#7FA080" stroke-width="0.7"/></g>
<g transform="translate(350.5,269.7)"><polygon points="-7.6,-0.5 -6.6,-1.5 -3.6,-2 1.4,-1.5 7.4,-0.5 7.7,0.7 5.9,2.2 3.4,4.2 1.9,4.4 -2.6,2.7 -6.3,1.9 -7.6,0.5" fill="#104412"/><polygon points="-7.4,-0.8 -6.4,-1.7 -3.6,-2.2 1.4,-1.7 7.2,-0.8 7.3,0 5.2,1.2 2.6,2.6 1.4,2.7 -2.6,1.3 -6.2,0.6 -7.4,-0.2" fill="#1E8A22"/><path d="M-5.8,-0.9 L-1,-0.2 L2.2,0.1" stroke="#0F4A13" stroke-width="0.8" fill="none"/><path d="M-5,1.5 L-2,2.3" stroke="#0A300C" stroke-width="0.9" fill="none"/><polygon points="-4.4,-1.3 -3.7,-3.4 -2,-4.5 1,-4.4 1.9,-3.2 1.9,-1.2 -1,-0.7" fill="#1B8420"/><path d="M-3.4,-3.7 L0.8,-3.9" stroke="#2CAE30" stroke-width="0.9"/><path d="M1.5,-3.1 L7.6,-3.1" stroke="#25A029" stroke-width="1.4"/><rect x="1.9" y="-2.5" width="1.5" height="1.2" fill="#1F2E26"/><path d="M3.6,-1.9 L5.6,-1.9" stroke="#7FA080" stroke-width="0.7"/></g>
<g transform="translate(332.4,287.6)"><polygon points="-7.6,-0.5 -6.6,-1.5 -3.6,-2 1.4,-1.5 7.4,-0.5 7.7,0.7 5.9,2.2 3.4,4.2 1.9,4.4 -2.6,2.7 -6.3,1.9 -7.6,0.5" fill="#104412"/><polygon points="-7.4,-0.8 -6.4,-1.7 -3.6,-2.2 1.4,-1.7 7.2,-0.8 7.3,0 5.2,1.2 2.6,2.6 1.4,2.7 -2.6,1.3 -6.2,0.6 -7.4,-0.2" fill="#1E8A22"/><path d="M-5.8,-0.9 L-1,-0.2 L2.2,0.1" stroke="#0F4A13" stroke-width="0.8" fill="none"/><path d="M-5,1.5 L-2,2.3" stroke="#0A300C" stroke-width="0.9" fill="none"/><polygon points="-4.4,-1.3 -3.7,-3.4 -2,-4.5 1,-4.4 1.9,-3.2 1.9,-1.2 -1,-0.7" fill="#1B8420"/><path d="M-3.4,-3.7 L0.8,-3.9" stroke="#2CAE30" stroke-width="0.9"/><path d="M1.5,-3.1 L7.6,-3.1" stroke="#25A029" stroke-width="1.4"/><rect x="1.9" y="-2.5" width="1.5" height="1.2" fill="#1F2E26"/><path d="M3.6,-1.9 L5.6,-1.9" stroke="#7FA080" stroke-width="0.7"/></g>
<g transform="translate(455.7,295)"><polygon points="-7.6,-0.5 -6.6,-1.5 -3.6,-2 1.4,-1.5 7.4,-0.5 7.7,0.7 5.9,2.2 3.4,4.2 1.9,4.4 -2.6,2.7 -6.3,1.9 -7.6,0.5" fill="#104412"/><polygon points="-7.4,-0.8 -6.4,-1.7 -3.6,-2.2 1.4,-1.7 7.2,-0.8 7.3,0 5.2,1.2 2.6,2.6 1.4,2.7 -2.6,1.3 -6.2,0.6 -7.4,-0.2" fill="#1E8A22"/><path d="M-5.8,-0.9 L-1,-0.2 L2.2,0.1" stroke="#0F4A13" stroke-width="0.8" fill="none"/><path d="M-5,1.5 L-2,2.3" stroke="#0A300C" stroke-width="0.9" fill="none"/><polygon points="-4.4,-1.3 -3.7,-3.4 -2,-4.5 1,-4.4 1.9,-3.2 1.9,-1.2 -1,-0.7" fill="#1B8420"/><path d="M-3.4,-3.7 L0.8,-3.9" stroke="#2CAE30" stroke-width="0.9"/><path d="M1.5,-3.1 L7.6,-3.1" stroke="#25A029" stroke-width="1.4"/><rect x="1.9" y="-2.5" width="1.5" height="1.2" fill="#1F2E26"/><path d="M3.6,-1.9 L5.6,-1.9" stroke="#7FA080" stroke-width="0.7"/></g>
<g transform="translate(510.6,240)"><polygon points="-7.6,-0.5 -6.6,-1.5 -3.6,-2 1.4,-1.5 7.4,-0.5 7.7,0.7 5.9,2.2 3.4,4.2 1.9,4.4 -2.6,2.7 -6.3,1.9 -7.6,0.5" fill="#104412"/><polygon points="-7.4,-0.8 -6.4,-1.7 -3.6,-2.2 1.4,-1.7 7.2,-0.8 7.3,0 5.2,1.2 2.6,2.6 1.4,2.7 -2.6,1.3 -6.2,0.6 -7.4,-0.2" fill="#1E8A22"/><path d="M-5.8,-0.9 L-1,-0.2 L2.2,0.1" stroke="#0F4A13" stroke-width="0.8" fill="none"/><path d="M-5,1.5 L-2,2.3" stroke="#0A300C" stroke-width="0.9" fill="none"/><polygon points="-4.4,-1.3 -3.7,-3.4 -2,-4.5 1,-4.4 1.9,-3.2 1.9,-1.2 -1,-0.7" fill="#1B8420"/><path d="M-3.4,-3.7 L0.8,-3.9" stroke="#2CAE30" stroke-width="0.9"/><path d="M1.5,-3.1 L7.6,-3.1" stroke="#25A029" stroke-width="1.4"/><rect x="1.9" y="-2.5" width="1.5" height="1.2" fill="#1F2E26"/><path d="M3.6,-1.9 L5.6,-1.9" stroke="#7FA080" stroke-width="0.7"/></g>
<g transform="translate(120.5,309.6)"><polygon points="-7.6,-0.5 -6.6,-1.5 -3.6,-2 1.4,-1.5 7.4,-0.5 7.7,0.7 5.9,2.2 3.4,4.2 1.9,4.4 -2.6,2.7 -6.3,1.9 -7.6,0.5" fill="#104412"/><polygon points="-7.4,-0.8 -6.4,-1.7 -3.6,-2.2 1.4,-1.7 7.2,-0.8 7.3,0 5.2,1.2 2.6,2.6 1.4,2.7 -2.6,1.3 -6.2,0.6 -7.4,-0.2" fill="#1E8A22"/><path d="M-5.8,-0.9 L-1,-0.2 L2.2,0.1" stroke="#0F4A13" stroke-width="0.8" fill="none"/><path d="M-5,1.5 L-2,2.3" stroke="#0A300C" stroke-width="0.9" fill="none"/><polygon points="-4.4,-1.3 -3.7,-3.4 -2,-4.5 1,-4.4 1.9,-3.2 1.9,-1.2 -1,-0.7" fill="#1B8420"/><path d="M-3.4,-3.7 L0.8,-3.9" stroke="#2CAE30" stroke-width="0.9"/><path d="M1.5,-3.1 L7.6,-3.1" stroke="#25A029" stroke-width="1.4"/><rect x="1.9" y="-2.5" width="1.5" height="1.2" fill="#1F2E26"/><path d="M3.6,-1.9 L5.6,-1.9" stroke="#7FA080" stroke-width="0.7"/></g>
<g transform="translate(185,295)"><polygon points="-7.6,-0.5 -6.6,-1.5 -3.6,-2 1.4,-1.5 7.4,-0.5 7.7,0.7 5.9,2.2 3.4,4.2 1.9,4.4 -2.6,2.7 -6.3,1.9 -7.6,0.5" fill="#104412"/><polygon points="-7.4,-0.8 -6.4,-1.7 -3.6,-2.2 1.4,-1.7 7.2,-0.8 7.3,0 5.2,1.2 2.6,2.6 1.4,2.7 -2.6,1.3 -6.2,0.6 -7.4,-0.2" fill="#1E8A22"/><path d="M-5.8,-0.9 L-1,-0.2 L2.2,0.1" stroke="#0F4A13" stroke-width="0.8" fill="none"/><path d="M-5,1.5 L-2,2.3" stroke="#0A300C" stroke-width="0.9" fill="none"/><polygon points="-4.4,-1.3 -3.7,-3.4 -2,-4.5 1,-4.4 1.9,-3.2 1.9,-1.2 -1,-0.7" fill="#1B8420"/><path d="M-3.4,-3.7 L0.8,-3.9" stroke="#2CAE30" stroke-width="0.9"/><path d="M1.5,-3.1 L7.6,-3.1" stroke="#25A029" stroke-width="1.4"/><rect x="1.9" y="-2.5" width="1.5" height="1.2" fill="#1F2E26"/><path d="M3.6,-1.9 L5.6,-1.9" stroke="#7FA080" stroke-width="0.7"/></g>
<g transform="translate(215.5,319.2)"><polygon points="-7.6,-0.5 -6.6,-1.5 -3.6,-2 1.4,-1.5 7.4,-0.5 7.7,0.7 5.9,2.2 3.4,4.2 1.9,4.4 -2.6,2.7 -6.3,1.9 -7.6,0.5" fill="#104412"/><polygon points="-7.4,-0.8 -6.4,-1.7 -3.6,-2.2 1.4,-1.7 7.2,-0.8 7.3,0 5.2,1.2 2.6,2.6 1.4,2.7 -2.6,1.3 -6.2,0.6 -7.4,-0.2" fill="#1E8A22"/><path d="M-5.8,-0.9 L-1,-0.2 L2.2,0.1" stroke="#0F4A13" stroke-width="0.8" fill="none"/><path d="M-5,1.5 L-2,2.3" stroke="#0A300C" stroke-width="0.9" fill="none"/><polygon points="-4.4,-1.3 -3.7,-3.4 -2,-4.5 1,-4.4 1.9,-3.2 1.9,-1.2 -1,-0.7" fill="#1B8420"/><path d="M-3.4,-3.7 L0.8,-3.9" stroke="#2CAE30" stroke-width="0.9"/><path d="M1.5,-3.1 L7.6,-3.1" stroke="#25A029" stroke-width="1.4"/><rect x="1.9" y="-2.5" width="1.5" height="1.2" fill="#1F2E26"/><path d="M3.6,-1.9 L5.6,-1.9" stroke="#7FA080" stroke-width="0.7"/></g>
<g transform="translate(160.4,360)"><polygon points="-7.6,-0.5 -6.6,-1.5 -3.6,-2 1.4,-1.5 7.4,-0.5 7.7,0.7 5.9,2.2 3.4,4.2 1.9,4.4 -2.6,2.7 -6.3,1.9 -7.6,0.5" fill="#104412"/><polygon points="-7.4,-0.8 -6.4,-1.7 -3.6,-2.2 1.4,-1.7 7.2,-0.8 7.3,0 5.2,1.2 2.6,2.6 1.4,2.7 -2.6,1.3 -6.2,0.6 -7.4,-0.2" fill="#1E8A22"/><path d="M-5.8,-0.9 L-1,-0.2 L2.2,0.1" stroke="#0F4A13" stroke-width="0.8" fill="none"/><path d="M-5,1.5 L-2,2.3" stroke="#0A300C" stroke-width="0.9" fill="none"/><polygon points="-4.4,-1.3 -3.7,-3.4 -2,-4.5 1,-4.4 1.9,-3.2 1.9,-1.2 -1,-0.7" fill="#1B8420"/><path d="M-3.4,-3.7 L0.8,-3.9" stroke="#2CAE30" stroke-width="0.9"/><path d="M1.5,-3.1 L7.6,-3.1" stroke="#25A029" stroke-width="1.4"/><rect x="1.9" y="-2.5" width="1.5" height="1.2" fill="#1F2E26"/><path d="M3.6,-1.9 L5.6,-1.9" stroke="#7FA080" stroke-width="0.7"/></g>
<g transform="translate(540.6,299.8)"><polygon points="-7.6,-0.5 -6.6,-1.5 -3.6,-2 1.4,-1.5 7.4,-0.5 7.7,0.7 5.9,2.2 3.4,4.2 1.9,4.4 -2.6,2.7 -6.3,1.9 -7.6,0.5" fill="#104412"/><polygon points="-7.4,-0.8 -6.4,-1.7 -3.6,-2.2 1.4,-1.7 7.2,-0.8 7.3,0 5.2,1.2 2.6,2.6 1.4,2.7 -2.6,1.3 -6.2,0.6 -7.4,-0.2" fill="#1E8A22"/><path d="M-5.8,-0.9 L-1,-0.2 L2.2,0.1" stroke="#0F4A13" stroke-width="0.8" fill="none"/><path d="M-5,1.5 L-2,2.3" stroke="#0A300C" stroke-width="0.9" fill="none"/><polygon points="-4.4,-1.3 -3.7,-3.4 -2,-4.5 1,-4.4 1.9,-3.2 1.9,-1.2 -1,-0.7" fill="#1B8420"/><path d="M-3.4,-3.7 L0.8,-3.9" stroke="#2CAE30" stroke-width="0.9"/><path d="M1.5,-3.1 L7.6,-3.1" stroke="#25A029" stroke-width="1.4"/><rect x="1.9" y="-2.5" width="1.5" height="1.2" fill="#1F2E26"/><path d="M3.6,-1.9 L5.6,-1.9" stroke="#7FA080" stroke-width="0.7"/></g>
<g transform="translate(536,349.8)"><polygon points="-7.6,-0.5 -6.6,-1.5 -3.6,-2 1.4,-1.5 7.4,-0.5 7.7,0.7 5.9,2.2 3.4,4.2 1.9,4.4 -2.6,2.7 -6.3,1.9 -7.6,0.5" fill="#104412"/><polygon points="-7.4,-0.8 -6.4,-1.7 -3.6,-2.2 1.4,-1.7 7.2,-0.8 7.3,0 5.2,1.2 2.6,2.6 1.4,2.7 -2.6,1.3 -6.2,0.6 -7.4,-0.2" fill="#1E8A22"/><path d="M-5.8,-0.9 L-1,-0.2 L2.2,0.1" stroke="#0F4A13" stroke-width="0.8" fill="none"/><path d="M-5,1.5 L-2,2.3" stroke="#0A300C" stroke-width="0.9" fill="none"/><polygon points="-4.4,-1.3 -3.7,-3.4 -2,-4.5 1,-4.4 1.9,-3.2 1.9,-1.2 -1,-0.7" fill="#1B8420"/><path d="M-3.4,-3.7 L0.8,-3.9" stroke="#2CAE30" stroke-width="0.9"/><path d="M1.5,-3.1 L7.6,-3.1" stroke="#25A029" stroke-width="1.4"/><rect x="1.9" y="-2.5" width="1.5" height="1.2" fill="#1F2E26"/><path d="M3.6,-1.9 L5.6,-1.9" stroke="#7FA080" stroke-width="0.7"/></g>
<g transform="translate(290,419.6)"><polygon points="-7.6,-0.5 -6.6,-1.5 -3.6,-2 1.4,-1.5 7.4,-0.5 7.7,0.7 5.9,2.2 3.4,4.2 1.9,4.4 -2.6,2.7 -6.3,1.9 -7.6,0.5" fill="#104412"/><polygon points="-7.4,-0.8 -6.4,-1.7 -3.6,-2.2 1.4,-1.7 7.2,-0.8 7.3,0 5.2,1.2 2.6,2.6 1.4,2.7 -2.6,1.3 -6.2,0.6 -7.4,-0.2" fill="#1E8A22"/><path d="M-5.8,-0.9 L-1,-0.2 L2.2,0.1" stroke="#0F4A13" stroke-width="0.8" fill="none"/><path d="M-5,1.5 L-2,2.3" stroke="#0A300C" stroke-width="0.9" fill="none"/><polygon points="-4.4,-1.3 -3.7,-3.4 -2,-4.5 1,-4.4 1.9,-3.2 1.9,-1.2 -1,-0.7" fill="#1B8420"/><path d="M-3.4,-3.7 L0.8,-3.9" stroke="#2CAE30" stroke-width="0.9"/><path d="M1.5,-3.1 L7.6,-3.1" stroke="#25A029" stroke-width="1.4"/><rect x="1.9" y="-2.5" width="1.5" height="1.2" fill="#1F2E26"/><path d="M3.6,-1.9 L5.6,-1.9" stroke="#7FA080" stroke-width="0.7"/></g>
<polygon points="337.50,115.90 338.56,118.74 341.59,118.87 339.21,120.76 340.03,123.68 337.50,122.00 334.97,123.68 335.79,120.76 333.41,118.87 336.44,118.74" fill="#FFEE00" stroke="#000" stroke-width="0.9"/>
<polygon points="297.70,410.70 298.76,413.54 301.79,413.67 299.41,415.56 300.23,418.48 297.70,416.80 295.17,418.48 295.99,415.56 293.61,413.67 296.64,413.54" fill="#FFEE00" stroke="#000" stroke-width="0.9"/>
<rect x="55" y="135" width="12" height="11" fill="#A4C49A" stroke="#000" stroke-width="1" shape-rendering="crispEdges"/><g transform="translate(54.5,135.1)"><polygon points="0.3,10.6 0.3,8.6 3,7.2 5,8 7.2,6.3 8.2,9 12,11.8 13,14 12.6,16 10,16.3 5,14.2" fill="#102890"/><polygon points="0.3,9.8 0.3,8.4 3,7 5,7.8 7.2,6 8.2,8.8 12,11.6 13,13.6 12.4,15.2 10,15.4 5,13.2" fill="#707070"/><polygon points="3,7.6 5,8.2 7.2,6.4 8,9.4 5.5,10.2 2.5,9" fill="#5A5A5A"/><polygon points="1,9 3,8.2 5.5,10.4 9,11 11.5,12.6 10,13.4 6,12.4" fill="#8A8A8A" opacity="0.7"/></g>
<rect x="7.5" y="184.5" width="12" height="11" fill="#A4C49A" stroke="#000" stroke-width="1" shape-rendering="crispEdges"/><g transform="translate(7,184.6)"><polygon points="0.3,10.6 0.3,8.6 3,7.2 5,8 7.2,6.3 8.2,9 12,11.8 13,14 12.6,16 10,16.3 5,14.2" fill="#102890"/><polygon points="0.3,9.8 0.3,8.4 3,7 5,7.8 7.2,6 8.2,8.8 12,11.6 13,13.6 12.4,15.2 10,15.4 5,13.2" fill="#707070"/><polygon points="3,7.6 5,8.2 7.2,6.4 8,9.4 5.5,10.2 2.5,9" fill="#5A5A5A"/><polygon points="1,9 3,8.2 5.5,10.4 9,11 11.5,12.6 10,13.4 6,12.4" fill="#8A8A8A" opacity="0.7"/></g>
<rect x="39.8" y="214.8" width="12" height="11" fill="#A4C49A" stroke="#000" stroke-width="1" shape-rendering="crispEdges"/><g transform="translate(39.3,214.9)"><polygon points="0.3,10.6 0.3,8.6 3,7.2 5,8 7.2,6.3 8.2,9 12,11.8 13,14 12.6,16 10,16.3 5,14.2" fill="#102890"/><polygon points="0.3,9.8 0.3,8.4 3,7 5,7.8 7.2,6 8.2,8.8 12,11.6 13,13.6 12.4,15.2 10,15.4 5,13.2" fill="#707070"/><polygon points="3,7.6 5,8.2 7.2,6.4 8,9.4 5.5,10.2 2.5,9" fill="#5A5A5A"/><polygon points="1,9 3,8.2 5.5,10.4 9,11 11.5,12.6 10,13.4 6,12.4" fill="#8A8A8A" opacity="0.7"/></g>
<g transform="translate(62,222.1)"><polygon points="0.3,10.6 0.3,8.6 3,7.2 5,8 7.2,6.3 8.2,9 12,11.8 13,14 12.6,16 10,16.3 5,14.2" fill="#102890"/><polygon points="0.3,9.8 0.3,8.4 3,7 5,7.8 7.2,6 8.2,8.8 12,11.6 13,13.6 12.4,15.2 10,15.4 5,13.2" fill="#707070"/><polygon points="3,7.6 5,8.2 7.2,6.4 8,9.4 5.5,10.2 2.5,9" fill="#5A5A5A"/><polygon points="1,9 3,8.2 5.5,10.4 9,11 11.5,12.6 10,13.4 6,12.4" fill="#8A8A8A" opacity="0.7"/></g>
<rect x="132" y="250.3" width="12" height="11" fill="#A4C49A" stroke="#000" stroke-width="1" shape-rendering="crispEdges"/><g transform="translate(131.5,250.4)"><polygon points="0.3,10.6 0.3,8.6 3,7.2 5,8 7.2,6.3 8.2,9 12,11.8 13,14 12.6,16 10,16.3 5,14.2" fill="#102890"/><polygon points="0.3,9.8 0.3,8.4 3,7 5,7.8 7.2,6 8.2,8.8 12,11.6 13,13.6 12.4,15.2 10,15.4 5,13.2" fill="#707070"/><polygon points="3,7.6 5,8.2 7.2,6.4 8,9.4 5.5,10.2 2.5,9" fill="#5A5A5A"/><polygon points="1,9 3,8.2 5.5,10.4 9,11 11.5,12.6 10,13.4 6,12.4" fill="#8A8A8A" opacity="0.7"/></g>
<rect x="27" y="279.5" width="12" height="11" fill="#C39187" stroke="#000" stroke-width="1" shape-rendering="crispEdges"/><g transform="translate(26.5,279.6)"><polygon points="0.3,10.6 0.3,8.6 3,7.2 5,8 7.2,6.3 8.2,9 12,11.8 13,14 12.6,16 10,16.3 5,14.2" fill="#102890"/><polygon points="0.3,9.8 0.3,8.4 3,7 5,7.8 7.2,6 8.2,8.8 12,11.6 13,13.6 12.4,15.2 10,15.4 5,13.2" fill="#707070"/><polygon points="3,7.6 5,8.2 7.2,6.4 8,9.4 5.5,10.2 2.5,9" fill="#5A5A5A"/><polygon points="1,9 3,8.2 5.5,10.4 9,11 11.5,12.6 10,13.4 6,12.4" fill="#8A8A8A" opacity="0.7"/></g>
<g transform="translate(109,370)"><polygon points="0.3,10.6 0.3,8.6 3,7.2 5,8 7.2,6.3 8.2,9 12,11.8 13,14 12.6,16 10,16.3 5,14.2" fill="#102890"/><polygon points="0.3,9.8 0.3,8.4 3,7 5,7.8 7.2,6 8.2,8.8 12,11.6 13,13.6 12.4,15.2 10,15.4 5,13.2" fill="#707070"/><polygon points="3,7.6 5,8.2 7.2,6.4 8,9.4 5.5,10.2 2.5,9" fill="#5A5A5A"/><polygon points="1,9 3,8.2 5.5,10.4 9,11 11.5,12.6 10,13.4 6,12.4" fill="#8A8A8A" opacity="0.7"/></g>
<rect x="500" y="329.5" width="12" height="11" fill="#C39187" stroke="#000" stroke-width="1" shape-rendering="crispEdges"/><g transform="translate(499.5,329.6)"><polygon points="0.3,10.6 0.3,8.6 3,7.2 5,8 7.2,6.3 8.2,9 12,11.8 13,14 12.6,16 10,16.3 5,14.2" fill="#102890"/><polygon points="0.3,9.8 0.3,8.4 3,7 5,7.8 7.2,6 8.2,8.8 12,11.6 13,13.6 12.4,15.2 10,15.4 5,13.2" fill="#707070"/><polygon points="3,7.6 5,8.2 7.2,6.4 8,9.4 5.5,10.2 2.5,9" fill="#5A5A5A"/><polygon points="1,9 3,8.2 5.5,10.4 9,11 11.5,12.6 10,13.4 6,12.4" fill="#8A8A8A" opacity="0.7"/></g>
<rect x="604.5" y="339.5" width="12" height="11" fill="#A4C49A" stroke="#000" stroke-width="1" shape-rendering="crispEdges"/><g transform="translate(604,339.6)"><polygon points="0.3,10.6 0.3,8.6 3,7.2 5,8 7.2,6.3 8.2,9 12,11.8 13,14 12.6,16 10,16.3 5,14.2" fill="#102890"/><polygon points="0.3,9.8 0.3,8.4 3,7 5,7.8 7.2,6 8.2,8.8 12,11.6 13,13.6 12.4,15.2 10,15.4 5,13.2" fill="#707070"/><polygon points="3,7.6 5,8.2 7.2,6.4 8,9.4 5.5,10.2 2.5,9" fill="#5A5A5A"/><polygon points="1,9 3,8.2 5.5,10.4 9,11 11.5,12.6 10,13.4 6,12.4" fill="#8A8A8A" opacity="0.7"/></g>
<rect x="556.5" y="379.8" width="12" height="11" fill="#A4C49A" stroke="#000" stroke-width="1" shape-rendering="crispEdges"/><g transform="translate(556,379.9)"><polygon points="0.3,10.6 0.3,8.6 3,7.2 5,8 7.2,6.3 8.2,9 12,11.8 13,14 12.6,16 10,16.3 5,14.2" fill="#102890"/><polygon points="0.3,9.8 0.3,8.4 3,7 5,7.8 7.2,6 8.2,8.8 12,11.6 13,13.6 12.4,15.2 10,15.4 5,13.2" fill="#707070"/><polygon points="3,7.6 5,8.2 7.2,6.4 8,9.4 5.5,10.2 2.5,9" fill="#5A5A5A"/><polygon points="1,9 3,8.2 5.5,10.4 9,11 11.5,12.6 10,13.4 6,12.4" fill="#8A8A8A" opacity="0.7"/></g>
<rect x="479.5" y="455" width="12" height="11" fill="#C39187" stroke="#000" stroke-width="1" shape-rendering="crispEdges"/><g transform="translate(479,455.1)"><polygon points="0.3,10.6 0.3,8.6 3,7.2 5,8 7.2,6.3 8.2,9 12,11.8 13,14 12.6,16 10,16.3 5,14.2" fill="#102890"/><polygon points="0.3,9.8 0.3,8.4 3,7 5,7.8 7.2,6 8.2,8.8 12,11.6 13,13.6 12.4,15.2 10,15.4 5,13.2" fill="#707070"/><polygon points="3,7.6 5,8.2 7.2,6.4 8,9.4 5.5,10.2 2.5,9" fill="#5A5A5A"/><polygon points="1,9 3,8.2 5.5,10.4 9,11 11.5,12.6 10,13.4 6,12.4" fill="#8A8A8A" opacity="0.7"/></g>
<g transform="translate(143.8,498.2)"><polygon points="0.3,10.6 0.3,8.6 3,7.2 5,8 7.2,6.3 8.2,9 12,11.8 13,14 12.6,16 10,16.3 5,14.2" fill="#102890"/><polygon points="0.3,9.8 0.3,8.4 3,7 5,7.8 7.2,6 8.2,8.8 12,11.6 13,13.6 12.4,15.2 10,15.4 5,13.2" fill="#A4A8AE"/><polygon points="3,7.6 5,8.2 7.2,6.4 8,9.4 5.5,10.2 2.5,9" fill="#8C9096"/><polygon points="1,9 3,8.2 5.5,10.4 9,11 11.5,12.6 10,13.4 6,12.4" fill="#8A8A8A" opacity="0.7"/></g>
</svg></body></html>
